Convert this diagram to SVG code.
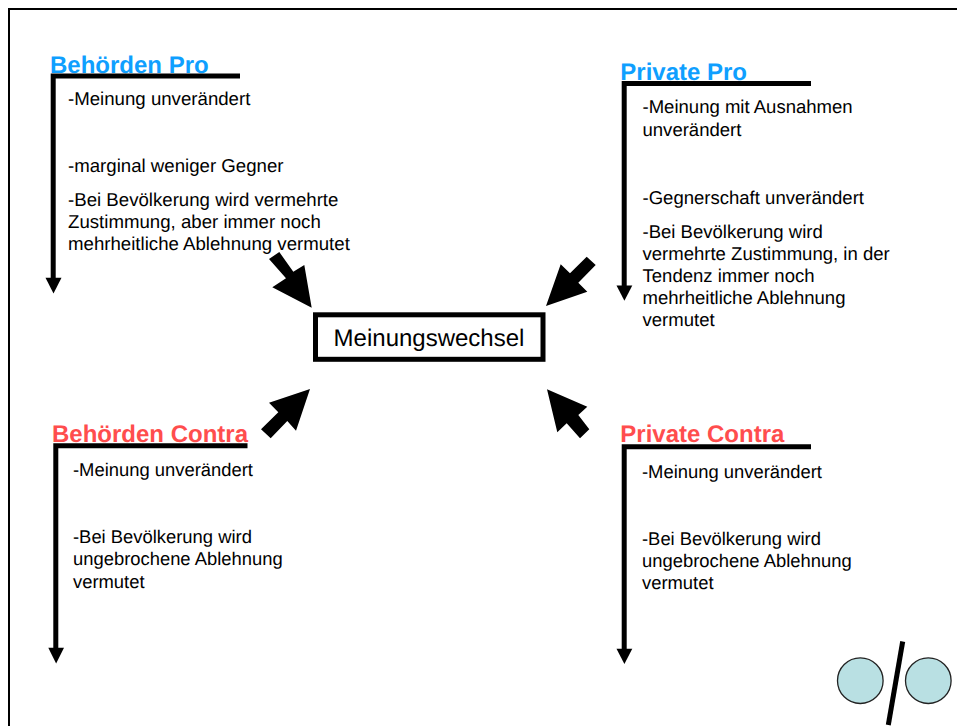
<svg xmlns="http://www.w3.org/2000/svg" width="957" height="726" viewBox="0 0 957 726">
<style>
text{font-family:"Liberation Sans",Arial,sans-serif;fill:#000;text-rendering:geometricPrecision}
.t{font-size:18.400px}
.t1{font-size:18.650px}
.t2{font-size:18.550px}
.h{font-size:24px;font-weight:bold}
.pro{fill:#0F9FFF}
.con{fill:#FF4D4D}
.bar{fill:none;stroke:#000;stroke-width:5}
.head{fill:#000}
.c{fill:#B9E0E3;stroke:#222;stroke-width:1.3}
</style>
<rect width="957" height="726" fill="#fff"/>
<path d="M9 726V9H957" fill="none" stroke="#000" stroke-width="2"/>
<g id="connectors">
<polygon class="head" points="269,259 279.3,252 293.3,271.7 304.3,265 311.7,307.7 272.3,287.3 286,278.3"/>
<polygon class="head" points="595.7,265 586.7,256.7 570,273.3 560.7,264.3 546,306 587.3,291.7 578.3,282.7"/>
<polygon class="head" points="310,389 269,402.7 278.3,412.3 261,429.3 270.7,438.3 287.3,421 296,430.7"/>
<polygon class="head" points="547,389.3 587.3,406.7 578.3,415 589.3,429.3 580,438.3 566.7,423.3 557.3,432.3"/>
</g>
<g id="behoerden-pro">
<text class="h pro" x="50" y="73">Behörden Pro</text>
<path class="bar" d="M240 76H53.200V280"/>
<polygon class="head" points="45.500,277.700 61.500,277.700 53.500,293.500"/>
<text class="t1" x="68" y="105">-Meinung unverändert</text>
<text class="t1" x="68" y="172">-marginal weniger Gegner</text>
<text class="t1" x="68" y="206">-Bei Bevölkerung wird vermehrte</text>
<text class="t1" x="68" y="228">Zustimmung, aber immer noch</text>
<text class="t1" x="68" y="250">mehrheitliche Ablehnung vermutet</text>
</g>
<g id="private-pro">
<text class="h pro" x="620.300" y="79.500">Private Pro</text>
<path class="bar" d="M811 83.500H624.200V288"/>
<polygon class="head" points="616.500,285.500 632.300,285.500 624.400,300.800"/>
<text class="t2" x="642.500" y="113">-Meinung mit Ausnahmen</text>
<text class="t2" x="642.500" y="136">unverändert</text>
<text class="t2" x="642.500" y="204">-Gegnerschaft unverändert</text>
<text class="t2" x="642.500" y="238">-Bei Bevölkerung wird</text>
<text class="t2" x="642.500" y="260">vermehrte Zustimmung, in der</text>
<text class="t2" x="642.500" y="282">Tendenz immer noch</text>
<text class="t2" x="642.500" y="304">mehrheitliche Ablehnung</text>
<text class="t2" x="642.500" y="326">vermutet</text>
</g>
<g id="behoerden-contra">
<text class="h con" x="52" y="442.300">Behörden Contra</text>
<path class="bar" d="M247.500 445.800H55.800V650"/>
<polygon class="head" points="48.300,647.700 64,647.700 56.100,663.400"/>
<text class="t" x="73" y="476">-Meinung unverändert</text>
<text class="t" x="73" y="543">-Bei Bevölkerung wird</text>
<text class="t" x="73" y="565">ungebrochene Ablehnung</text>
<text class="t" x="73" y="587.500">vermutet</text>
</g>
<g id="private-contra">
<text class="h con" x="620.300" y="442.300">Private Contra</text>
<path class="bar" d="M811 446.800H624.200V650"/>
<polygon class="head" points="616.500,648.700 632.300,648.700 624.400,664"/>
<text class="t" x="642" y="478">-Meinung unverändert</text>
<text class="t" x="642" y="544.500">-Bei Bevölkerung wird</text>
<text class="t" x="642" y="567">ungebrochene Ablehnung</text>
<text class="t" x="642" y="589">vermutet</text>
</g>
<g id="meinungswechsel">
<rect x="315.500" y="314.800" width="227.500" height="44.500" fill="#fff" stroke="#000" stroke-width="5"/>
<text x="429" y="346" font-size="24" text-anchor="middle">Meinungswechsel</text>
</g>
<g id="logo">
<circle class="c" cx="860.300" cy="680.700" r="22.800"/>
<circle class="c" cx="928.300" cy="680.700" r="22.800"/>
<line x1="902.700" y1="641.500" x2="888.300" y2="725" stroke="#000" stroke-width="5"/>
</g>
</svg>
